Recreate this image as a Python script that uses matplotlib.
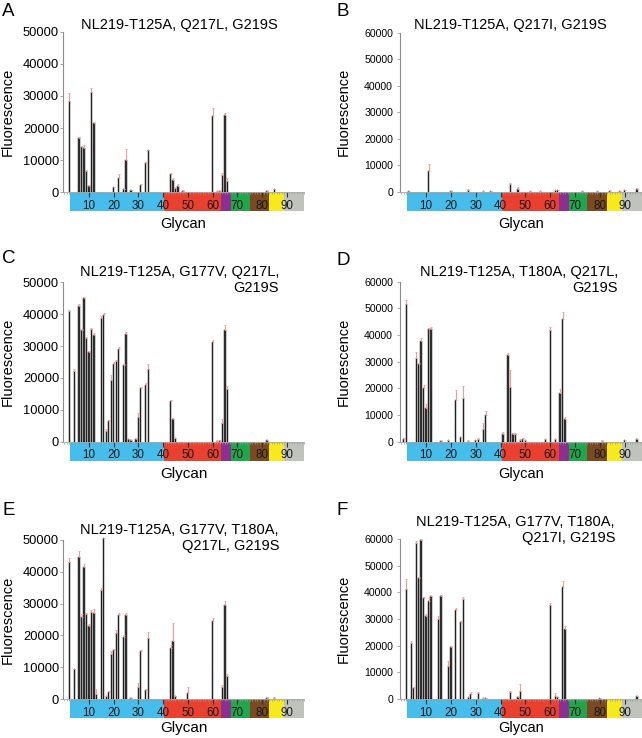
import numpy as np
import matplotlib
matplotlib.use("Agg")
import matplotlib.pyplot as plt

plt.rcParams["font.family"] = ["Liberation Sans", "DejaVu Sans"]

# glycan class ranges (colour band under the x axis)
class_edges = [2.5, 40.5, 63.5, 67.5, 75, 82.7, 89, 97]
class_colors = ["#46bdea", "#e9402f", "#8d2f90", "#22a64d", "#7b4a22", "#f6ea1f", "#c0c3bb"]
glycan_ticks = [10, 20, 30, 40, 50, 60, 70, 80, 90]

# A
a_idx = [2, 6, 7, 8, 9, 10, 11, 12, 20, 22, 24, 25, 27, 31, 33, 34, 43, 44, 45, 46, 48, 60, 62, 63, 64, 65, 66, 82, 85]
a_val = [28500, 17000, 14000, 13800, 6600, 2000, 31400, 21500, 1500, 4300, 800, 9900, 600, 2100, 9000,
         13000, 5500, 3800, 1100, 2000, 400, 23800, 300, 300, 5300, 24000, 3400, 400, 800]
a_err = [2400, 300, 500, 800, 200, 200, 1100, 500, 200, 1300, 200, 3600, 100, 300, 400,
         200, 300, 700, 200, 400, 100, 2300, 100, 100, 500, 800, 900, 100, 200]

# B
b_idx = [3, 11, 20, 27, 33, 36, 44, 47, 52, 56, 62, 63, 73, 79, 84, 88, 90, 95]
b_val = [300, 7900, 200, 900, 300, 200, 3100, 1300, 300, 200, 600, 600, 300, 300, 500, 300, 600, 1200]
b_err = [100, 2600, 100, 100, 100, 100, 200, 700, 100, 100, 100, 100, 100, 100, 200, 100, 100, 200]

# C
c_idx = [2, 4, 6, 7, 8, 9, 10, 11, 12, 15, 16, 17, 18, 19, 20, 21, 22, 24, 25, 26, 27, 29, 30, 31,
         33, 34, 43, 44, 45, 60, 62, 63, 64, 65, 66, 82]
c_val = [40900, 22300, 42700, 35100, 45200, 32600, 28100, 35300, 33500, 38900, 39700, 3300, 6500,
         19200, 24400, 25200, 29100, 24100, 33700, 800, 400, 1000, 7800, 17000, 17800, 22900, 12700,
         7100, 1100, 31400, 300, 300, 6000, 35000, 16400, 400]
c_err = [300, 400, 400, 300, 300, 300, 300, 500, 500, 500, 600, 600, 300, 1700, 500, 400, 500, 300,
         700, 100, 100, 100, 1100, 300, 500, 1500, 400, 300, 100, 500, 100, 100, 1200, 1600, 1100, 100]

# D
d_idx = [1, 2, 6, 7, 8, 9, 10, 11, 12, 16, 19, 22, 24, 25, 27, 30, 31, 33, 34, 41, 43, 44, 45, 46,
         48, 49, 50, 58, 60, 62, 64, 65, 66, 81, 90, 95]
d_val = [1200, 51500, 31500, 29100, 37700, 20300, 12700, 42100, 42100, 400, 600, 15600, 1600, 16500,
         400, 600, 1200, 4600, 10000, 2900, 32500, 20600, 2900, 2800, 800, 1200, 600, 1000, 41900,
         900, 18400, 46000, 8500, 400, 500, 1000]
d_err = [200, 1600, 2000, 400, 1100, 900, 1300, 500, 900, 100, 100, 3800, 300, 4400, 100, 100, 200,
         2500, 1400, 600, 600, 6300, 300, 600, 100, 300, 100, 100, 1000, 100, 1300, 2800, 600, 100, 100, 200]

# E
e_idx = [2, 4, 6, 7, 8, 9, 10, 11, 12, 13, 15, 16, 17, 18, 19, 20, 21, 22, 24, 25, 27, 30, 31, 33,
         34, 43, 44, 45, 50, 60, 64, 65, 66, 82, 85]
e_val = [43000, 9400, 44800, 25900, 41600, 26800, 23100, 27500, 27100, 1700, 34300, 50500, 900, 2100,
         14000, 15400, 20900, 26500, 19500, 26400, 300, 3900, 15100, 2800, 19300, 16000, 18300, 1000,
         2000, 24500, 3700, 29600, 7200, 400, 400]
e_err = [1200, 100, 1700, 800, 900, 300, 500, 500, 1200, 1300, 500, 0, 100, 400, 1100, 300, 800, 400,
         500, 500, 100, 1000, 300, 300, 1900, 1000, 5500, 100, 1700, 1000, 700, 1300, 700, 100, 100]

# F
f_idx = [2, 4, 5, 6, 7, 8, 9, 10, 11, 12, 15, 16, 19, 20, 22, 24, 25, 27, 28, 31, 33, 34, 44, 47,
         48, 60, 62, 63, 65, 66, 80, 95]
f_val = [41100, 20900, 4000, 58500, 45400, 59600, 37800, 31300, 36800, 38500, 30100, 38700, 12400,
         19400, 33500, 28700, 37500, 600, 1900, 2100, 400, 400, 2600, 900, 2900, 35300, 1100, 600,
         41900, 26200, 300, 1100]
f_err = [3900, 700, 500, 900, 500, 500, 300, 400, 1000, 300, 900, 300, 2000, 600, 500, 400, 600, 100,
         600, 700, 100, 100, 400, 100, 2700, 700, 1000, 100, 2200, 1000, 100, 200]

W, H = 642, 738
fig = plt.figure(figsize=(W / 100, H / 100), dpi=100)


def fx(x):
    return x / W


def fy(y):
    return 1 - y / H


def panel(letter, title, idx, val, err, ymax, box, tsize, title_pos, glycan_size, glycan_top, ylab_x):
    left, right, y0, ytop = box
    band = fig.add_axes([fx(left), fy(y0 + 19), fx(right - left), 19 / H])
    band.set_xlim(-0.5, 97)
    band.set_ylim(0, 1)
    for i, c in enumerate(class_colors):
        band.axvspan(class_edges[i], class_edges[i + 1], color=c, lw=0)
    band.axis("off")
    band.set_zorder(1)

    ax = fig.add_axes([fx(left), fy(y0), fx(right - left), (y0 - ytop) / H])
    ax.set_zorder(2)
    ax.patch.set_facecolor("none")
    ax.set_xlim(-0.5, 97)
    ax.set_ylim(0, ymax)

    ax.bar(idx, val, width=0.5, color="#3a3a3a", edgecolor="black", linewidth=0.3,
           clip_on=False, zorder=2)
    ax.errorbar(idx, val, yerr=[np.zeros(len(err)), err], fmt="none", ecolor="#f19c9c",
                elinewidth=0.8, capsize=1, capthick=0.6, zorder=3, clip_on=False)

    for s in ("top", "right"):
        ax.spines[s].set_visible(False)
    ax.spines["left"].set_color("#8c8c8c")
    ax.spines["left"].set_linewidth(0.8)
    ax.spines["bottom"].set_color("#aaaaaa")
    ax.spines["bottom"].set_linewidth(0.6)

    ax.set_xticks(glycan_ticks)
    ax.set_xticks(np.arange(0, 98), minor=True)
    ax.tick_params(axis="x", which="major", direction="out", length=3.5, width=0.8,
                   color="#333333", pad=2, labelsize=8.4, labelcolor="#1a1a1a")
    ax.tick_params(axis="x", which="minor", direction="out", length=1.3, width=0.5, color="#999999")

    ax.set_yticks(np.arange(0, ymax + 1, 10000))
    ax.tick_params(axis="y", direction="out", length=2, width=0.6, color="#999999",
                   labelsize=tsize, pad=0.8 if tsize > 8 else 3)

    fig.text(fx(title_pos[0]), fy(title_pos[1]), title, ha="right", va="top",
             multialignment="right", fontsize=10.5)
    fig.text(fx((left + right) / 2), fy(glycan_top), "Glycan", ha="center", va="top",
             fontsize=glycan_size)
    fig.text(fx(ylab_x), fy((y0 + ytop) / 2), "Fluorescence", rotation=90, ha="center",
             va="center", fontsize=10.5)
    lx = 2 if left < 200 else 337
    fig.text(fx(lx), fy(title_pos[2]), letter, ha="left", va="top", fontsize=13.5)


panel("A", "NL219-T125A, Q217L, G219S", a_idx, a_val, a_err, 50000,
      (63, 304, 192, 32), 9.3, (278, 18, 3), 10.5, 217, 8)
panel("B", "NL219-T125A, Q217I, G219S", b_idx, b_val, b_err, 60000,
      (400, 642, 192, 32.7), 7.6, (607, 18, 3), 10.5, 217, 344)
panel("C", "NL219-T125A, G177V, Q217L,\nG219S", c_idx, c_val, c_err, 50000,
      (63, 304, 441.7, 282.3), 9.3, (279, 265, 250), 11, 467, 8)
panel("D", "NL219-T125A, T180A, Q217L,\nG219S", d_idx, d_val, d_err, 60000,
      (400, 642, 441.7, 281.7), 7.6, (618, 265, 252), 10.5, 467, 344)
panel("E", "NL219-T125A, G177V, T180A,\nQ217L, G219S", e_idx, e_val, e_err, 50000,
      (63, 304, 699, 540), 9.3, (279, 523, 502), 11, 721, 8)
panel("F", "NL219-T125A, G177V, T180A,\nQ217I, G219S", f_idx, f_val, f_err, 60000,
      (400, 642, 699, 539), 7.6, (615, 515, 502), 10.5, 721, 344)

fig.savefig("out.png", dpi=100)
